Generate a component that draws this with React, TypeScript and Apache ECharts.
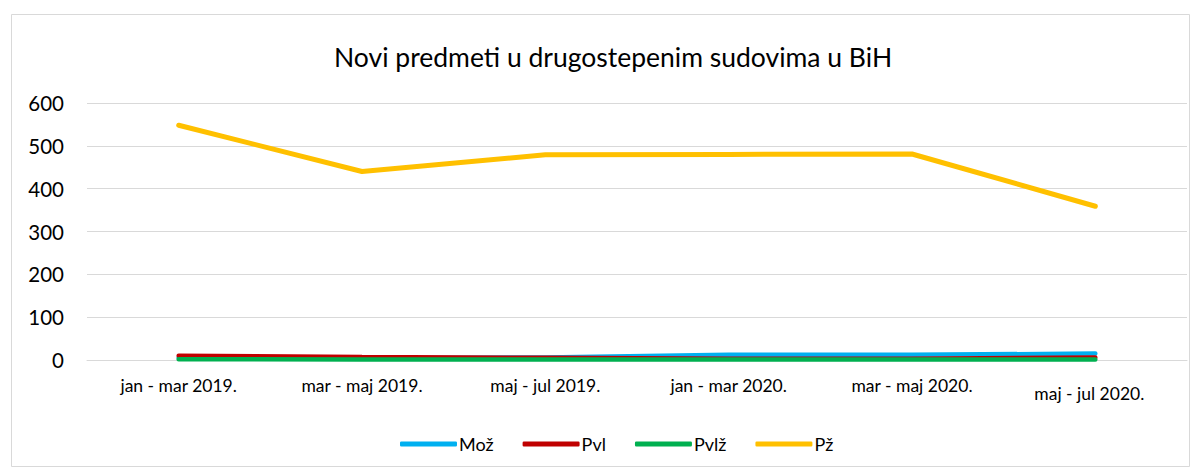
import React, { useEffect, useRef } from "react";
import * as echarts from "echarts";

const categories = [
  "jan - mar 2019.",
  "mar - maj 2019.",
  "maj - jul 2019.",
  "jan - mar 2020.",
  "mar - maj 2020.",
  "maj - jul 2020.",
];
const moz = [5, 4, 6, 12, 12, 15];
const pvl = [10, 7, 5, 3, 3, 6];
const pvlz = [2, 1, 1, 1, 1, 1];
const pz = [548, 440, 479, 480, 481, 359];

const FONT = "Lato, 'Open Sans', sans-serif";

export default function App() {
  const ref = useRef<HTMLDivElement>(null);
  useEffect(() => {
    if (!ref.current) return;
    const chart = echarts.init(ref.current, null, { renderer: "svg" });
    const mk = (name: string, data: number[], color: string, width: number) => ({
      name,
      type: "line",
      data,
      symbol: "none",
      lineStyle: { color, width, cap: "round" },
      itemStyle: { color },
    });
    chart.setOption({
      animation: false,
      backgroundColor: "#fff",
      textStyle: { fontFamily: FONT },
      title: {
        text: "Novi predmeti u drugostepenim sudovima u BiH",
        left: 321,
        top: 30,
        textStyle: { fontFamily: FONT, fontSize: 26.5, fontWeight: "normal", color: "#000" },
      },
      graphic: [
        {
          type: "rect",
          shape: { x: 3.5, y: 6.5, width: 1178, height: 452 },
          style: { fill: "none", stroke: "#d9d9d9", lineWidth: 1 },
          silent: true,
        },
      ],
      legend: {
        bottom: 10,
        left: 387,
        itemWidth: 57,
        itemHeight: 5,
        itemGap: 29,
        icon: "roundRect",
        textStyle: { fontFamily: FONT, fontSize: 18, color: "#000", padding: [0, 0, 0, -3] },
        data: ["Mož", "Pvl", "Pvlž", "Pž"],
      },
      grid: { left: 79, right: 7, top: 95, bottom: 108, containLabel: false },
      xAxis: {
        type: "category",
        data: categories,
        boundaryGap: true,
        axisLine: { show: true, lineStyle: { color: "#d9d9d9", width: 1 } },
        axisTick: { show: false },
        axisLabel: {
          fontFamily: FONT,
          fontSize: 17.5,
          color: "#000",
          margin: 16,
          interval: 0,
          formatter: (v: string, i: number) => (i === 5 ? `{low|${v}}` : v),
          rich: { low: { fontFamily: FONT, fontSize: 17.5, color: "#000", padding: [8, 12, 0, 0] } },
        },
      },
      yAxis: {
        type: "value",
        min: 0,
        max: 600,
        interval: 100,
        axisLine: { show: false },
        axisTick: { show: false },
        axisLabel: { fontFamily: FONT, fontSize: 20.5, color: "#000", margin: 23 },
        splitLine: { lineStyle: { color: "#d9d9d9", width: 1 } },
      },
      series: [
        mk("Mož", moz, "#00B0F0", 4.5),
        mk("Pvl", pvl, "#C00000", 4.5),
        mk("Pvlž", pvlz, "#00B050", 4.5),
        mk("Pž", pz, "#FFC000", 5),
      ],
    });
    return () => chart.dispose();
  }, []);
  return <div ref={ref} style={{ width: 1186, height: 460 }} />;
}
